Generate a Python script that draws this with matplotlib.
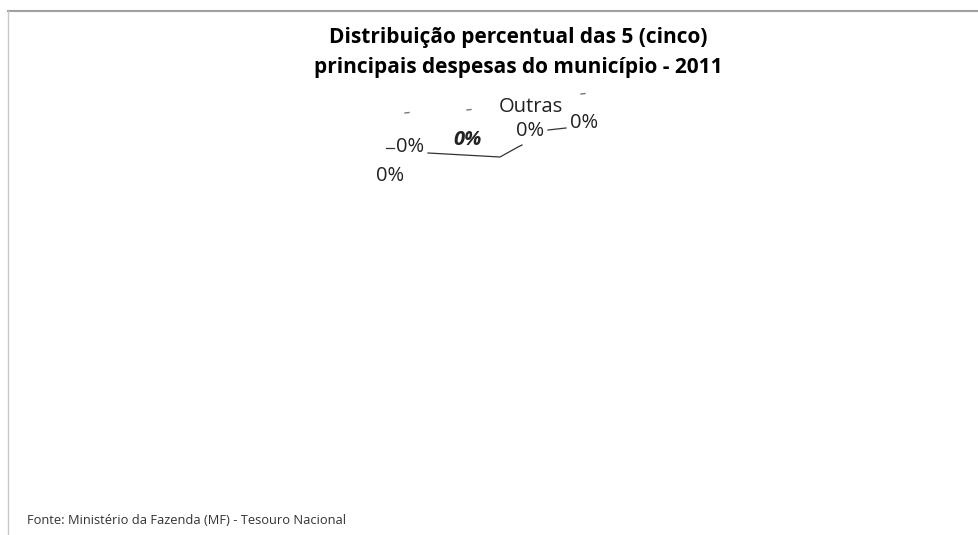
import matplotlib
matplotlib.use("Agg")
import matplotlib.pyplot as plt
from matplotlib.lines import Line2D

title = "Distribuição percentual das 5 (cinco)\nprincipais despesas do município - 2011"
source = "Fonte: Ministério da Fazenda (MF) - Tesouro Nacional"
categories = ["Despesa 1", "Despesa 2", "Despesa 3", "Despesa 4", "Despesa 5", "Outras"]
values = [0, 0, 0, 0, 0, 0]

W, H = 979, 535
fig = plt.figure(figsize=(W / 100, H / 100), dpi=100)
ax = fig.add_axes([0, 0, 1, 1])
ax.set_xlim(0, W)
ax.set_ylim(H, 0)
ax.axis("off")

# frame of the chart area
fig.add_artist(Line2D([8 / W, 1], [1 - 11 / H, 1 - 11 / H], color="#a0a0a0", lw=1.5))
fig.add_artist(Line2D([8 / W, 8 / W], [0, 1 - 11 / H], color="#c8c8c8", lw=1))

fontfam = ["Open Sans", "DejaVu Sans"]
ax.text(518, 37, title.split("\n")[0], ha="center", va="center", fontsize=15,
        fontweight="bold", family=fontfam)
ax.text(518, 68, title.split("\n")[1], ha="center", va="center", fontsize=15,
        fontweight="bold", family=fontfam)

def pct(v):
    total = sum(values)
    return f"{(v / total * 100 if total else 0):.0f}%"

# data labels of the (empty) pie, all zero
label_pos = [(410, 147, "normal", "normal"), (468, 140, "bold", "italic"),
             (390, 176, "normal", "normal"), (530, 131, "normal", "normal"),
             (584, 123, "normal", "normal")]
for (x, y, fw, st), v in zip(label_pos, values[:5]):
    ax.text(x, y, pct(v), ha="center", va="center", fontsize=14.5, color="#222222",
            fontweight=fw, fontstyle=st, family=fontfam)
ax.text(531, 107, categories[-1], ha="center", va="center", fontsize=14.5,
        color="#222222", family=fontfam)

# leader lines
ax.plot([428, 500, 518, 522], [153, 157, 147, 145], color="#333333", lw=0.9)
ax.plot([548, 566], [130, 128], color="#333333", lw=0.9)
ax.plot([386, 394], [148, 148], color="#333333", lw=0.9)
for x, y in [(407, 113), (469, 110), (583, 94)]:
    ax.plot([x - 2, x + 2], [y, y - 0.5], color="#777777", lw=1)

ax.text(27, 520, source, ha="left", va="center", fontsize=9.3, color="#333333",
        family=fontfam)

fig.savefig("out.png", dpi=100)
